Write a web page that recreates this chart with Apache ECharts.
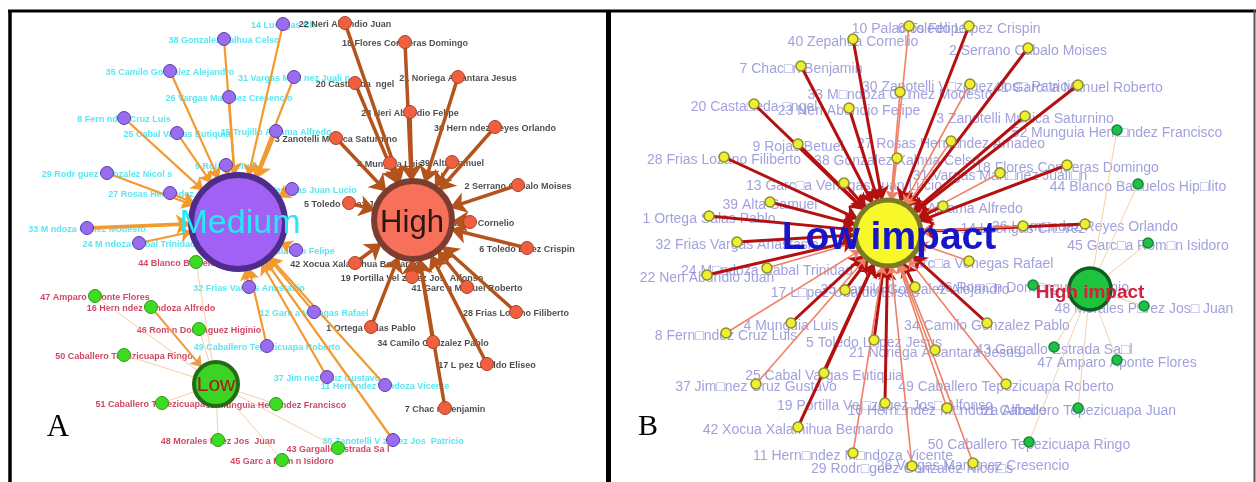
<!DOCTYPE html>
<html>
<head>
<meta charset="utf-8">
<title>Impact network</title>
<script src="https://cdn.jsdelivr.net/npm/echarts@6/dist/echarts.min.js"></script>
<style>
html, body { margin: 0; padding: 0; background: #fff; }
#main { width: 1256px; height: 482px; }
</style>
</head>
<body>
<div id="main"></div>
<script>
// layout: [name, x, y] for hubs, [name, x, y, tie weight] for members

// panel A
const hubsA = [
  ['Medium', 238, 222],
  ['High', 413, 220],
  ['Low', 216, 384]
]
const mediumNodes = [
  ['14 Luengas Ch', 283, 24, 2],
  ['38 Gonzalez Xalhua Celso', 224, 39, 2],
  ['35 Camilo Gonzalez Alejandro', 170, 71, 2],
  ['31 Vargas Mart nez Juali n', 294, 77, 2],
  ['26 Vargas Mart nez Cresencio', 229, 97, 2],
  ['8 Fern ndez Cruz Luis', 124, 118, 2],
  ['25 Cabal Vargas Eutiquia', 177, 133, 2],
  ['15 Trujillo Aldama Alfredo', 276, 131, 3],
  ['9 Rojas Betuel', 226, 165, 2],
  ['29 Rodr guez Gonzalez Nicol s', 107, 173, 2],
  ['27 Rosas Hern ndez Amadeo', 170, 193, 2],
  ['13 Garc a Venegas Juan Lucio', 292, 189, 2],
  ['33 M ndoza G mez Modesto', 87, 228, 3],
  ['24 M ndoza Cabal Trinidad', 139, 243, 2],
  ['10 Palacios Felipe', 296, 250, 2],
  ['32 Frias Vargas Anastasio', 249, 287, 2],
  ['12 Garc a Venegas Rafael', 314, 312, 2],
  ['49 Caballero Tepezicuapa Roberto', 267, 346, 2],
  ['37 Jim nez Cruz Gustavo', 327, 377, 2],
  ['11 Hern ndez M ndoza Vicente', 385, 385, 2],
  ['30 Zanotelli V zquez Jos  Patricio', 393, 440, 2]
]
const highNodes = [
  ['22 Neri Abundio Juan', 345, 23, 3],
  ['18 Flores Contreras Domingo', 405, 42, 3],
  ['21 Noriega Alcantara Jesus', 458, 77, 3],
  ['20 Casta eda  ngel', 355, 83, 3],
  ['23 Neri Abundio Felipe', 410, 112, 3],
  ['36 Hern ndez Reyes Orlando', 495, 127, 3],
  ['3 Zanotelli Munica Saturnino', 336, 138, 3],
  ['4 Munguia Luis', 390, 163, 3],
  ['39 Alta Samuel', 452, 162, 3],
  ['2 Serrano Cabalo Moises', 518, 185, 3],
  ['5 Toledo L pez Jesus', 349, 203, 3],
  ['40 Zepahua Cornelio', 470, 222, 3],
  ['6 Toledo L pez Crispin', 527, 248, 3],
  ['42 Xocua Xalamihua Bernardo', 355, 263, 3],
  ['19 Portilla Vel zquez Jos  Alfonso', 412, 277, 3],
  ['41 Garc a Manuel Roberto', 467, 287, 3],
  ['28 Frias Lozano Filiberto', 516, 312, 3],
  ['1 Ortega Salas Pablo', 371, 327, 3],
  ['34 Camilo Gonzalez Pablo', 433, 342, 3],
  ['17 L pez Ubaldo Eliseo', 487, 364, 3],
  ['7 Chac n Benjamin', 445, 408, 3]
]
const lowNodes = [
  ['44 Blanco Ba uelos Hip lito', 196, 262, 1],
  ['47 Amparo Aponte Flores', 95, 296, 1],
  ['16 Hern ndez M ndoza Alfredo', 151, 307, 2],
  ['46 Rom n Dom nguez Higinio', 199, 329, 1],
  ['50 Caballero Tepezicuapa Ringo', 124, 355, 1],
  ['51 Caballero Tepezicuapa Juan', 162, 403, 1],
  ['52 Munguia Hern ndez Francisco', 276, 404, 1],
  ['48 Morales P rez Jos  Juan', 218, 440, 1],
  ['43 Gargallo Estrada Sa l', 338, 448, 1],
  ['45 Garc a Rom n Isidoro', 282, 460, 1]
]

// panel B
const hubsB = [
  ['Low impact', 888, 233],
  ['High impact', 1090, 289]
]
const lowImpactNodes = [
  ['10 Palacios Felipe', 909, 26, 1],
  ['6 Toledo L□pez Crispin', 969, 26, 2],
  ['40 Zepahua Cornelio', 853, 39, 2],
  ['2 Serrano Cabalo Moises', 1028, 48, 2],
  ['7 Chac□n Benjamin', 801, 66, 2],
  ['30 Zanotelli V□zquez Jos□ Patricio', 970, 84, 1],
  ['41 Garc□a Manuel Roberto', 1078, 85, 2],
  ['33 M□ndoza G□mez Modesto', 900, 92, 1],
  ['20 Casta□eda □ngel', 754, 104, 2],
  ['23 Neri Abundio Felipe', 849, 108, 2],
  ['3 Zanotelli Munica Saturnino', 1025, 116, 2],
  ['27 Rosas Hern□ndez Amadeo', 951, 141, 1],
  ['9 Rojas Betuel', 798, 144, 2],
  ['28 Frias Lozano Filiberto', 724, 157, 2],
  ['38 Gonzalez Xalhua Celso', 897, 158, 1],
  ['18 Flores Contreras Domingo', 1067, 165, 2],
  ['31 Vargas Mart□nez Juali□n', 1000, 173, 1],
  ['13 Garc□a Venegas Juan Lucio', 844, 183, 2],
  ['39 Alta Samuel', 770, 202, 2],
  ['15 Trujillo Aldama Alfredo', 943, 206, 2],
  ['1 Ortega Salas Pablo', 709, 216, 2],
  ['36 Hern□ndez Reyes Orlando', 1085, 224, 2],
  ['14 Luengas Ch□vez', 1023, 226, 1],
  ['32 Frias Vargas Anastasio', 737, 242, 2],
  ['12 Garc□a Venegas Rafael', 969, 261, 1],
  ['24 M□ndoza Cabal Trinidad', 767, 268, 1],
  ['22 Neri Abundio Juan', 707, 275, 2],
  ['35 Camilo Gonzalez Alejandro', 915, 287, 2],
  ['17 L□pez Ubaldo Eliseo', 845, 290, 2],
  ['4 Munguia Luis', 791, 323, 2],
  ['34 Camilo Gonzalez Pablo', 987, 323, 2],
  ['8 Fern□ndez Cruz Luis', 726, 333, 1],
  ['5 Toledo L□pez Jesus', 874, 340, 2],
  ['21 Noriega Alcantara Jesus', 935, 350, 1],
  ['25 Cabal Vargas Eutiquia', 824, 373, 2],
  ['37 Jim□nez Cruz Gustavo', 756, 384, 1],
  ['49 Caballero Tepezicuapa Roberto', 1006, 384, 1],
  ['19 Portilla Vel□zquez Jos□ Alfonso', 885, 403, 2],
  ['16 Hern□ndez M□ndoza Alfredo', 947, 408, 1],
  ['42 Xocua Xalamihua Bernardo', 798, 427, 2],
  ['11 Hern□ndez M□ndoza Vicente', 853, 453, 1],
  ['29 Rodr□guez Gonzalez Nicol□s', 912, 466, 1],
  ['26 Vargas Mart□nez Cresencio', 973, 463, 1]
]
const highImpactNodes = [
  ['52 Munguia Hern□ndez Francisco', 1117, 130, 1],
  ['44 Blanco Ba□uelos Hip□lito', 1138, 184, 1],
  ['45 Garc□a Rom□n Isidoro', 1148, 243, 1],
  ['46 Rom□n Dom□nguez Higinio', 1033, 285, 1],
  ['48 Morales P□rez Jos□ Juan', 1144, 306, 1],
  ['43 Gargallo Estrada Sa□l', 1054, 347, 1],
  ['47 Amparo Aponte Flores', 1117, 360, 1],
  ['51 Caballero Tepezicuapa Juan', 1078, 408, 1],
  ['50 Caballero Tepezicuapa Ringo', 1029, 442, 1]
]

const FONT = '"Liberation Sans", Arial, sans-serif'

// looks
const hubLookA = [
  { size: 94, color: '#a061f4', border: '#4e2c8c', bw: 6, text: '#27e8f5', fontSize: 34, weight: 'normal', offset: [2, 2] },
  { size: 78, color: '#f6705a', border: '#7c3d30', bw: 6, text: '#2b1710', fontSize: 31, weight: 'normal', offset: [-1, 3] },
  { size: 44, color: '#3ad424', border: '#236b16', bw: 4, text: '#a31d16', fontSize: 21, weight: 'normal', offset: [0, 1] }
]
const hubLookB = [
  { size: 66, color: '#f7f72a', border: '#7d7a24', bw: 5, text: '#1616c8', fontSize: 39, weight: 'bold', offset: [1, 5] },
  { size: 42, color: '#1fc43e', border: '#0f5e20', bw: 3.5, text: '#d4203e', fontSize: 19, weight: 'bold', offset: [0, 4] }
]
const nodeLook = {
  medium: { size: 13, color: '#9a6cf0', border: '#5b3fa8', bw: 1, text: '#2fe0ee' },
  high: { size: 13, color: '#f0603f', border: '#a8402a', bw: 1, text: '#1e1e1e' },
  low: { size: 13, color: '#3bdc22', border: '#2a9a18', bw: 1, text: '#c4183c' },
  lowImpact: { size: 10, color: '#eeee33', border: '#8c8c2c', bw: 1.5, text: '#8a8ad6' },
  highImpact: { size: 10, color: '#1fbf4a', border: '#138a33', bw: 1.5, text: '#8a8ad6' }
}
const edgeLook = {
  medium: function (w) { return w > 2 ? { color: '#f29a30', width: 3.6, arrow: 15 } : { color: '#f29a30', width: 2.2, arrow: 12 } },
  high: function (w) { return { color: '#b4541c', width: 3.5, arrow: 16 } },
  low: function (w) { return w > 1 ? { color: '#ef9a45', width: 2, arrow: 11 } : { color: '#f5cfa6', width: 1, arrow: 0 } },
  lowImpact: function (w) { return w > 1 ? { color: '#b51010', width: 3, arrow: 14 } : { color: '#f08066', width: 1.6, arrow: 9 } },
  highImpact: function (w) { return { color: '#f4cfb0', width: 1, arrow: 0 } }
}

const groupsA = [
  { key: 'medium', hub: 0, rows: mediumNodes },
  { key: 'high', hub: 1, rows: highNodes },
  { key: 'low', hub: 2, rows: lowNodes }
]
const groupsB = [
  { key: 'lowImpact', hub: 0, rows: lowImpactNodes },
  { key: 'highImpact', hub: 1, rows: highImpactNodes }
]

function buildGraph (hubs, groups, hubLook) {
  const data = []
  const links = []
  hubs.forEach(function (h, i) {
    const look = hubLook[i]
    data.push({
      name: h[0],
      value: [h[1], h[2]],
      symbolSize: look.size,
      itemStyle: { color: look.color, borderColor: look.border, borderWidth: look.bw },
      label: {
        show: true,
        position: 'inside',
        offset: look.offset,
        color: look.text,
        fontSize: look.fontSize,
        fontWeight: look.weight,
        fontFamily: FONT
      }
    })
  })
  groups.forEach(function (g) {
    const nl = nodeLook[g.key]
    g.rows.forEach(function (r) {
      const idx = data.length
      data.push({
        name: r[0],
        value: [r[1], r[2]],
        symbolSize: nl.size,
        itemStyle: { color: nl.color, borderColor: nl.border, borderWidth: nl.bw },
        label: { show: false }
      })
      const el = edgeLook[g.key](r[3])
      links.push({
        source: idx,
        target: g.hub,
        symbol: ['none', el.arrow ? 'arrow' : 'none'],
        symbolSize: [0, el.arrow || 1],
        lineStyle: { color: el.color, width: el.width, opacity: 1, curveness: 0 }
      })
    })
  })
  return {
    type: 'graph',
    coordinateSystem: 'cartesian2d',
    z: 3,
    silent: true,
    animation: false,
    data: data,
    links: links,
    lineStyle: { opacity: 1 },
    emphasis: { disabled: true }
  }
}

// member names, drawn below the edges
function nameSeries (groups, fontSize, weight, offset) {
  const data = []
  groups.forEach(function (g) {
    g.rows.forEach(function (r) {
      data.push({ name: r[0], value: [r[1], r[2]], label: { color: nodeLook[g.key].text } })
    })
  })
  return {
    type: 'scatter',
    z: 1,
    silent: true,
    animation: false,
    symbolSize: 1,
    itemStyle: { color: 'rgba(0,0,0,0)' },
    label: {
      show: true,
      position: 'inside',
      offset: offset,
      formatter: '{b}',
      fontSize: fontSize,
      fontWeight: weight,
      fontFamily: FONT
    },
    data: data
  }
}

const chart = echarts.init(document.getElementById('main'))
chart.setOption({
  backgroundColor: '#fff',
  animation: false,
  tooltip: { show: false },
  grid: { left: 0, right: 0, top: 0, bottom: 0 },
  xAxis: { type: 'value', min: 0, max: 1256, show: false },
  yAxis: { type: 'value', min: 0, max: 482, inverse: true, show: false },
  graphic: [
    { type: 'line', z: 100, shape: { x1: 8, y1: 11, x2: 1256, y2: 11 }, style: { stroke: '#000', lineWidth: 3 } },
    { type: 'line', z: 100, shape: { x1: 10, y1: 10, x2: 10, y2: 482 }, style: { stroke: '#000', lineWidth: 3.5 } },
    { type: 'line', z: 100, shape: { x1: 608.5, y1: 10, x2: 608.5, y2: 482 }, style: { stroke: '#000', lineWidth: 5 } },
    { type: 'line', z: 100, shape: { x1: 1254.5, y1: 10, x2: 1254.5, y2: 482 }, style: { stroke: '#555', lineWidth: 2 } },
    { type: 'text', z: 100, x: 58, y: 428, style: { text: 'A', font: '31px "Liberation Serif", serif', fill: '#000', align: 'center', verticalAlign: 'middle' } },
    { type: 'text', z: 100, x: 648, y: 427, style: { text: 'B', font: '30px "Liberation Serif", serif', fill: '#000', align: 'center', verticalAlign: 'middle' } }
  ],
  series: [
    nameSeries(groupsA, 9, 'bold', [0, 2]),
    nameSeries(groupsB, 14, 'normal', [0, 3]),
    buildGraph(hubsA, groupsA, hubLookA),
    buildGraph(hubsB, groupsB, hubLookB)
  ]
})
</script>
</body>
</html>
